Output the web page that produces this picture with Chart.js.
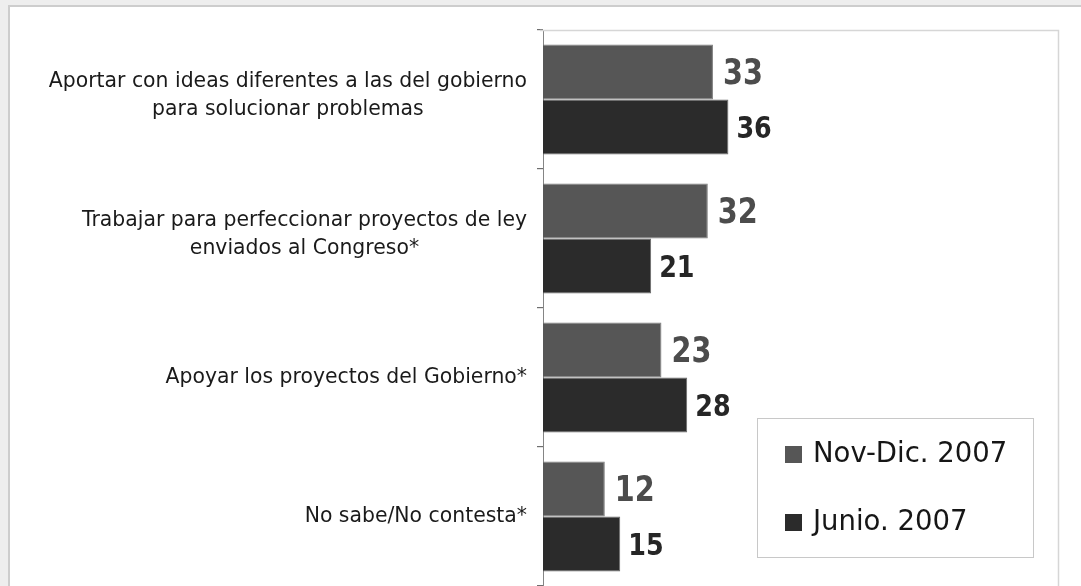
<!DOCTYPE html>
<html><head><meta charset="utf-8">
<script src="https://cdn.jsdelivr.net/npm/chart.js@4.4.1/dist/chart.umd.min.js"></script>
<style>
html,body{margin:0;padding:0;background:#eeeeee;width:1081px;height:586px;overflow:hidden}
#panel{position:absolute;left:8px;top:5px;width:1200px;height:700px;background:#fff;border-left:2px solid #cdcdcd;border-top:2px solid #cdcdcd}
#wrap{position:absolute;left:0;top:0;width:1081px;height:586px}
</style></head><body>
<div id="panel"></div>
<div id="wrap"><canvas id="c"></canvas></div>
<script>
// Categories (each entry is the list of lines of its label)
const categories = [
  ['Aportar con ideas diferentes a las del gobierno', 'para solucionar problemas'],
  ['Trabajar para perfeccionar proyectos de ley', 'enviados al Congreso*'],
  ['Apoyar los proyectos del Gobierno*'],
  ['No sabe/No contesta*']
];
const seriesNames = ['Nov-Dic. 2007', 'Junio. 2007'];
const novDic2007 = [33, 32, 23, 12];
const junio2007 = [36, 21, 28, 15];
const valueAxisMax = 100;

const FONT = '"DejaVu Sans", Verdana, sans-serif';
const seriesColors = ['#565656', '#2b2b2b'];
const labelColors = ['#4c4c4c', '#262626'];
const labelSizes = [35, 31];
const labelGaps = [10, 8];
const labelSquash = 0.82;

// light frame on the top and right of the plot area
const plotFrame = {
  id: 'plotFrame',
  beforeDatasetsDraw(chart) {
    const {ctx, chartArea: a} = chart;
    ctx.save();
    ctx.strokeStyle = '#d6d6d6';
    ctx.lineWidth = 1.5;
    ctx.beginPath();
    ctx.moveTo(a.left - 3, a.top + 0.5);
    ctx.lineTo(a.right + 0.5, a.top + 0.5);
    ctx.lineTo(a.right + 0.5, a.bottom);
    ctx.stroke();
    ctx.restore();
  }
};

// category labels: block right-aligned next to the axis, lines centred inside the block
const categoryLabels = {
  id: 'categoryLabels',
  afterDraw(chart) {
    const {ctx} = chart;
    const y = chart.scales.y;
    const rightEdge = chart.chartArea.left - 16;
    const lineH = 28;
    ctx.save();
    ctx.font = '20.4px ' + FONT;
    ctx.fillStyle = '#1a1a1a';
    ctx.textAlign = 'center';
    ctx.textBaseline = 'middle';
    categories.forEach((lines, i) => {
      const cy = y.getPixelForValue(i) - (lines.length > 1 ? 4 : 0);
      const widest = Math.max(...lines.map(l => ctx.measureText(l).width));
      const cx = rightEdge - widest / 2;
      const y0 = cy - (lines.length - 1) * lineH / 2;
      lines.forEach((l, k) => ctx.fillText(l, cx, y0 + k * lineH));
    });
    ctx.restore();
  }
};

// value labels placed after the end of each bar (slightly condensed digits)
const valueLabels = {
  id: 'valueLabels',
  afterDatasetsDraw(chart) {
    const {ctx} = chart;
    chart.data.datasets.forEach((ds, di) => {
      const meta = chart.getDatasetMeta(di);
      meta.data.forEach((bar, i) => {
        ctx.save();
        ctx.translate(bar.x + labelGaps[di], bar.y + labelSizes[di] * 0.35);
        ctx.scale(labelSquash, 1);
        ctx.font = 'bold ' + labelSizes[di] + 'px ' + FONT;
        ctx.fillStyle = labelColors[di];
        ctx.textAlign = 'left';
        ctx.textBaseline = 'alphabetic';
        ctx.fillText(String(ds.data[i]), 0, 0);
        ctx.restore();
      });
    });
  }
};

// boxed legend in the lower right of the plot area
const boxLegend = {
  id: 'boxLegend',
  afterDraw(chart) {
    const {ctx, chartArea: a} = chart;
    const w = 276, h = 139;
    const x = a.right - 25 - w, yTop = a.bottom - 29 - h;
    ctx.save();
    ctx.fillStyle = '#ffffff';
    ctx.fillRect(x, yTop, w, h);
    ctx.strokeStyle = '#c8c8c8';
    ctx.lineWidth = 1;
    ctx.strokeRect(x + 0.5, yTop + 0.5, w, h);
    ctx.font = '27.5px ' + FONT;
    ctx.textBaseline = 'middle';
    ctx.textAlign = 'left';
    chart.data.datasets.forEach((ds, i) => {
      const cy = yTop + 36 + i * 68;
      ctx.fillStyle = ds.backgroundColor;
      ctx.fillRect(x + 28, cy - 8, 17, 17);
      ctx.fillStyle = '#161616';
      ctx.fillText(ds.label, x + 56, cy + 1);
    });
    ctx.restore();
  }
};

new Chart(document.getElementById('c'), {
  type: 'bar',
  data: {
    labels: categories.map(l => l.join(' ')),
    datasets: [
      {label: seriesNames[0], data: novDic2007, backgroundColor: seriesColors[0], borderColor: '#7c7c7c', borderWidth: 1,
       barPercentage: 1.0, categoryPercentage: 0.79},
      {label: seriesNames[1], data: junio2007, backgroundColor: seriesColors[1], borderColor: '#6a6a6a', borderWidth: 1,
       barPercentage: 1.0, categoryPercentage: 0.79}
    ]
  },
  options: {
    indexAxis: 'y',
    responsive: true,
    maintainAspectRatio: false,
    animation: false,
    layout: {padding: {top: 30, right: 23, bottom: 0, left: 0}},
    scales: {
      x: {display: false, min: 0, max: valueAxisMax},
      y: {
        offset: true,
        grid: {drawOnChartArea: false, color: '#6f6f6f', lineWidth: 1.2, tickLength: 6, offset: true},
        border: {color: '#858585', width: 1},
        ticks: {display: false},
        afterFit(scale) { scale.width = 543; }
      }
    },
    plugins: {legend: {display: false}, tooltip: {enabled: false}}
  },
  plugins: [plotFrame, categoryLabels, valueLabels, boxLegend]
});
</script>
</body></html>
